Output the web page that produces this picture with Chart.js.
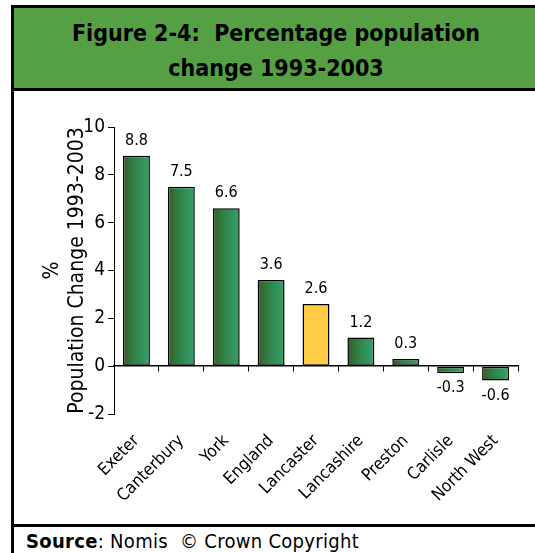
<!DOCTYPE html>
<html>
<head>
<meta charset="utf-8">
<script src="https://cdn.jsdelivr.net/npm/chart.js@4"></script>
<style>
  html, body { margin: 0; padding: 0; background: #fff; overflow: hidden; }
  body { width: 535px; height: 553px; position: relative; font-family: "DejaVu Sans Condensed", "DejaVu Sans", sans-serif; }
  #frame { position: absolute; left: 11px; top: 5px; width: 524px; height: 600px; border-left: 3px solid #000; border-top: 3px solid #000; }
  #head { position: absolute; left: 14px; top: 8px; width: 524px; height: 80px; background: #55a043; border-bottom: 3px solid #000;
          text-align: center; font-weight: bold; font-size: 23px; line-height: 35px; color: #000; }
  #head div { height: 35px; }
  #foot { position: absolute; left: 14px; top: 524px; width: 521px; border-top: 3px solid #000; font-size: 20px; letter-spacing: 0.3px; padding-left: 12px; line-height: 28px; }
  #wrap { position: absolute; left: 14px; top: 91px; width: 521px; height: 433px; }
</style>
</head>
<body>
<div id="frame"></div>
<div id="head"><div style="margin-top:8px">Figure 2-4:&nbsp; Percentage population</div><div>change 1993-2003</div></div>
<div id="wrap"><canvas id="c"></canvas></div>
<div id="foot"><b>Source</b>: Nomis&nbsp; © Crown Copyright</div>
<script>
const areas = ['Exeter', 'Canterbury', 'York', 'England', 'Lancaster', 'Lancashire', 'Preston', 'Carlisle', 'North West'];
const change = [8.8, 7.5, 6.6, 3.6, 2.6, 1.2, 0.3, -0.3, -0.6];
const highlight = 'Lancaster';
const yTicks = [-2, 0, 2, 4, 6, 8, 10];

const FONT = '"DejaVu Sans Condensed", "DejaVu Sans", sans-serif';

function barFill(c) {
  if (areas[c.dataIndex] === highlight) return '#ffcc44';
  const x = c.chart.scales.x;
  if (!x || !x.width) return '#3a8a55';
  const cx = x.getPixelForValue(c.dataIndex);
  const w = x.width / areas.length * 0.6;
  const g = c.chart.ctx.createLinearGradient(cx - w / 2, 0, cx + w / 2, 0);
  g.addColorStop(0, '#3b5a22');
  g.addColorStop(0.4, '#2e8147');
  g.addColorStop(1, '#36a16b');
  return g;
}

const valueLabels = {
  id: 'valueLabels',
  afterDatasetsDraw(chart) {
    const ctx = chart.ctx;
    const meta = chart.getDatasetMeta(0);
    ctx.save();
    ctx.font = '16px ' + FONT;
    ctx.fillStyle = '#000';
    ctx.textAlign = 'center';
    meta.data.forEach((bar, i) => {
      const v = change[i];
      if (v >= 0) {
        ctx.textBaseline = 'bottom';
        ctx.fillText(v.toFixed(1), bar.x, bar.y - 7);
      } else {
        ctx.textBaseline = 'top';
        ctx.fillText(v.toFixed(1), bar.x, bar.y + 7);
      }
    });
    ctx.restore();
  }
};

new Chart(document.getElementById('c'), {
  type: 'bar',
  data: {
    labels: areas,
    datasets: [{
      data: change,
      backgroundColor: barFill,
      borderColor: '#000',
      borderWidth: 1.5,
      borderSkipped: false,
      barPercentage: 0.6,
      categoryPercentage: 1
    }]
  },
  options: {
    responsive: true,
    maintainAspectRatio: false,
    animation: false,
    layout: { padding: { top: 36, right: 17, left: 26, bottom: 0 } },
    plugins: { legend: { display: false }, tooltip: { enabled: false } },
    scales: {
      x: {
        position: 'bottom',
        grid: { display: false, drawTicks: false },
        border: { display: false },
        ticks: { color: '#000', font: { family: FONT, size: 17 }, minRotation: 45, maxRotation: 45, padding: 17 },
        afterFit: s => { s.height = 110; }
      },
      x2: {
        type: 'category',
        position: { y: 0 },
        offset: true,
        grid: { offset: true, drawOnChartArea: false, drawTicks: true, tickLength: 5, color: '#000', lineWidth: 1 },
        border: { display: true, color: '#000', width: 1.5 },
        ticks: { display: false }
      },
      y: {
        min: -2,
        max: 10,
        afterBuildTicks: s => { s.ticks = yTicks.map(v => ({ value: v })); },
        grid: { drawOnChartArea: false, drawTicks: true, tickLength: 6, color: '#000' },
        border: { display: true, color: '#000', width: 1 },
        ticks: { color: '#000', font: { family: FONT, size: 19 }, padding: 3 },
        title: {
          display: true,
          text: ['%', 'Population Change 1993-2003'],
          color: '#000',
          font: { family: FONT, size: 21 },
          padding: { top: 0, bottom: 0 }
        },
        afterFit: s => { s.width = 74; }
      }
    }
  },
  plugins: [valueLabels]
});
</script>
</body>
</html>
